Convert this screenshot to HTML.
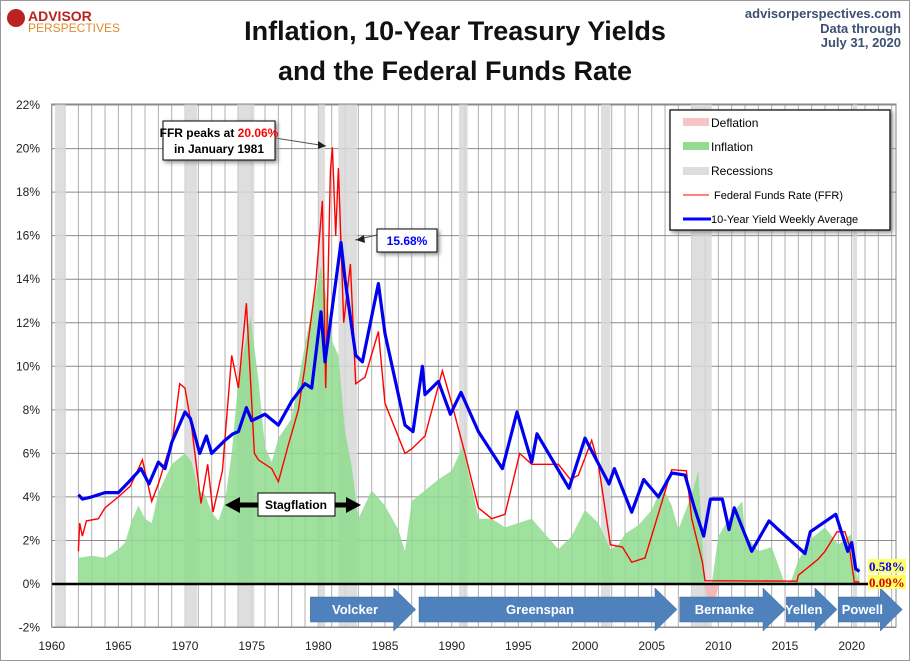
<!DOCTYPE html>
<html><head><meta charset="utf-8"><style>
body{margin:0;background:#fff;}
#wrap{position:relative;width:910px;height:661px;overflow:hidden;background:#fff;font-family:"Liberation Sans",sans-serif;}
svg text{font-family:"Liberation Sans",sans-serif;}
</style></head><body>
<div id="wrap">
<svg id="chart" width="910" height="661" viewBox="0 0 910 661"></svg>
</div>
<script>
const recessions=[[1960.25,1961.05],[1969.95,1970.9],[1973.9,1975.2],[1980.0,1980.5],[1981.5,1982.9],[1990.55,1991.2],[2001.2,2001.9],[2007.95,2009.5],[2020.1,2020.4]];
const inflYears=[1962,1963,1964,1965,1965.5,1966,1966.5,1967,1967.5,1968,1969,1970,1970.5,1971,1971.5,1972,1972.5,1973,1973.5,1974,1974.9,1975.5,1976,1976.5,1977,1978,1979,1979.5,1980.2,1980.7,1981,1981.5,1982,1982.5,1983,1984,1985,1986,1986.5,1987,1988,1989,1990,1990.8,1991.5,1992,1993,1994,1995,1996,1997,1998,1999,2000,2001,2001.9,2002.5,2003,2004,2005,2005.8,2006.5,2007,2008,2008.5,2009,2009.5,2010,2011,2011.8,2012,2013,2014,2015,2015.5,2016,2017,2018,2019,2020,2020.4,2020.58];
const inflValues=[1.2,1.3,1.2,1.6,1.9,2.9,3.6,3.0,2.8,4.2,5.5,6.0,5.6,4.3,4.1,3.3,2.9,3.8,6.0,9.4,12.3,9.4,6.3,5.6,6.7,7.6,11.0,12.5,14.6,12.8,11.2,10.5,7.0,5.4,3.0,4.3,3.6,2.5,1.5,3.8,4.3,4.8,5.2,6.3,4.5,3.0,3.0,2.6,2.8,3.0,2.3,1.6,2.2,3.4,2.8,1.6,1.8,2.3,2.7,3.4,4.5,3.6,2.5,4.1,5.2,-0.1,-1.8,2.2,3.2,3.8,2.3,1.5,1.7,0.0,0.2,1.1,2.1,2.6,1.8,2.3,0.2,1.0];
const ffrYears=[1962,1962.1,1962.3,1962.6,1963.5,1964,1965,1965.9,1966.8,1967.5,1968,1968.7,1969,1969.6,1970,1970.5,1971.2,1971.7,1972.1,1972.8,1973.5,1974,1974.6,1975.2,1975.5,1976.5,1977,1977.8,1978.5,1979,1979.8,1980.3,1980.55,1980.9,1981.05,1981.3,1981.5,1981.9,1982.4,1982.8,1983.5,1984.5,1985,1986.5,1987,1988,1989.3,1990,1991,1992,1993,1994,1995.1,1996,1998,1998.9,1999.5,2000.5,2001,2001.9,2002.8,2003.5,2004.5,2006.5,2007.6,2008,2008.8,2009,2015.9,2016,2017,2017.5,2018,2018.9,2019.5,2019.8,2020.2,2020.58];
const ffrValues=[1.5,2.8,2.2,2.9,3.0,3.5,4.0,4.5,5.7,3.8,4.6,6.0,6.3,9.2,9.0,7.2,3.7,5.5,3.3,5.2,10.5,9.0,12.9,6.0,5.7,5.3,4.7,6.5,8.0,10.0,13.8,17.6,9.0,19.0,20.06,16.0,19.1,12.0,14.7,9.2,9.5,11.6,8.3,6.0,6.2,6.8,9.8,8.3,6.0,3.5,3.0,3.2,6.0,5.5,5.5,4.8,5.0,6.6,5.5,1.8,1.7,1.0,1.2,5.25,5.2,3.0,1.0,0.15,0.13,0.4,0.9,1.15,1.5,2.4,2.4,1.8,0.1,0.09];
const tenYears=[1962,1962.3,1963,1964,1965,1965.8,1966.7,1967.3,1968,1968.5,1969,1970,1970.4,1971.1,1971.6,1972,1973,1973.6,1974,1974.6,1975,1976,1977,1978,1979,1979.5,1980.2,1980.5,1981,1981.7,1982,1982.8,1983.3,1984.5,1985,1986.5,1987.1,1987.8,1988,1989,1989.9,1990.7,1992,1993.8,1994.9,1996,1996.4,1998.8,2000,2001.8,2002.2,2003.5,2004.4,2005.5,2006.5,2007.5,2008.2,2008.9,2009.4,2010.3,2010.8,2011.2,2012.5,2013.8,2014.5,2016.5,2016.9,2018.8,2019.7,2020.0,2020.3,2020.58];
const tenValues=[4.1,3.9,4.0,4.2,4.2,4.7,5.3,4.6,5.6,5.3,6.5,7.9,7.6,6.0,6.8,6.0,6.6,6.9,7.0,8.1,7.5,7.8,7.3,8.4,9.2,9.0,12.5,10.2,12.5,15.68,14.0,10.5,10.2,13.8,11.5,7.3,7.0,10.0,8.7,9.3,7.8,8.8,7.0,5.3,7.9,5.6,6.9,4.4,6.7,4.6,5.3,3.3,4.8,4.0,5.1,5.0,3.5,2.2,3.9,3.9,2.5,3.5,1.5,2.9,2.5,1.4,2.4,3.2,1.5,1.9,0.7,0.58];
const yTicks=[22,20,18,16,14,12,10,8,6,4,2,0,-2];
const xTicks=[1960,1965,1970,1975,1980,1985,1990,1995,2000,2005,2010,2015,2020];
const chairs=["Volcker","Greenspan","Bernanke","Yellen","Powell"];
const chairStart=[1979.4,1987.55,2007.1,2015.1,2019.0];
const chairEnd=[1987.3,2006.9,2015.0,2018.9,2023.8];

const L=51.7,T=104,R=896,B=627;
const X=y=>L+(y-1960)*13.333;
const Y=v=>584-v*21.77;
const svg=document.getElementById('chart');
const NS='http://www.w3.org/2000/svg';
function mk(tag,attrs,parent){const e=document.createElementNS(NS,tag);for(const k in attrs)e.setAttribute(k,attrs[k]);(parent||svg).appendChild(e);return e;}

const grid=mk('g',{});


for(let yr=1960;yr<=2023;yr++){mk('line',{x1:X(yr),x2:X(yr),y1:T,y2:B,stroke:'#b0b0b0','stroke-width':1},grid);}
yTicks.forEach(v=>{mk('line',{x1:L,x2:R,y1:Y(v),y2:Y(v),stroke:'#8c8c8c','stroke-width':1},grid);});
recessions.forEach(r=>{const e=mk('rect',{x:X(r[0]),y:T,width:X(r[1])-X(r[0]),height:B-T,fill:'#d8d8d8','fill-opacity':0.85});

});
let d='M'+X(inflYears[0])+','+Y(0);
inflYears.forEach((yr,i)=>{d+=' L'+X(yr).toFixed(1)+','+Y(Math.max(0,inflValues[i])).toFixed(1);});
d+=' L'+X(inflYears[inflYears.length-1])+','+Y(0)+'Z';
const infl=mk('path',{d:d,fill:'#8fdc8f','fill-opacity':0.85});


let dd='M'+X(inflYears[0])+','+Y(0);
inflYears.forEach((yr,i)=>{dd+=' L'+X(yr).toFixed(1)+','+Y(Math.min(0,inflValues[i])).toFixed(1);});
dd+=' L'+X(inflYears[inflYears.length-1])+','+Y(0)+'Z';
const defl=mk('path',{d:dd,fill:'#f7b8b8'});


const z=mk('line',{x1:L,x2:R,y1:Y(0),y2:Y(0),stroke:'#000','stroke-width':2.5});


mk('rect',{x:L,y:T,width:R-L,height:B-T,fill:'none',stroke:'#888','stroke-width':1});
function line(xs,vs){return xs.map((yr,i)=>(i?'L':'M')+X(yr).toFixed(1)+','+Y(vs[i]).toFixed(1)).join(' ');}
const ffr=mk('path',{d:line(ffrYears,ffrValues),fill:'none',stroke:'#ff0000','stroke-width':1.4});


const ten=mk('path',{d:line(tenYears,tenValues),fill:'none',stroke:'#0000ee','stroke-width':3.2,'stroke-linejoin':'round'});


yTicks.forEach(v=>{const t=mk('text',{x:40,y:Y(v)+4,'text-anchor':'end','font-size':12,fill:'#222'});t.textContent=v+'%';

});
xTicks.forEach(v=>{const t=mk('text',{x:X(v),y:650,'text-anchor':'middle','font-size':12,fill:'#222'});t.textContent=v;

});
chairs.forEach((c,i)=>{const x0=X(chairStart[i]),x1=X(chairEnd[i]);const hw=22;
const g=mk('g',{});


mk('path',{d:`M${x0},597 L${x1-hw},597 L${x1-hw},588 L${x1},609.5 L${x1-hw},631 L${x1-hw},622 L${x0},622 Z`,fill:'#4f81bd',stroke:'#3a6a9e','stroke-width':0.5},g);
const t=mk('text',{x:(x0+x1-hw)/2+3,y:614,'text-anchor':'middle','font-size':13,'font-weight':'bold',fill:'#fff'},g);t.textContent=c;});
</script>
<svg width="910" height="661" style="position:absolute;left:0;top:0;pointer-events:none">
<rect x="0.5" y="0.5" width="909" height="660" fill="none" stroke="#999"/>
<g>
<circle cx="16" cy="18" r="9" fill="#b22" />
<text x="28" y="21" font-size="14" font-weight="bold" fill="#b22">ADVISOR</text>
<text x="28" y="32" font-size="12" fill="#e08a30">PERSPECTIVES</text>
</g>
<text x="455" y="40" text-anchor="middle" font-size="27" font-weight="bold" fill="#111">Inflation, 10-Year Treasury Yields</text>
<text x="455" y="80" text-anchor="middle" font-size="27" font-weight="bold" fill="#111">and the Federal Funds Rate</text>
<g font-size="13" font-weight="bold" fill="#3d4f72" text-anchor="end">
<text x="901" y="18">advisorperspectives.com</text><text x="901" y="33">Data through</text><text x="901" y="47">July 31, 2020</text></g>
<g>
<rect x="670" y="110" width="220" height="120" fill="#fff" stroke="#000" stroke-width="1.2" style="filter:drop-shadow(2px 2px 2px #888)"/>
<rect x="683" y="118" width="26" height="8" fill="#f7c4c4"/><text x="711" y="127" font-size="12">Deflation</text>
<rect x="683" y="142" width="26" height="8" fill="#90dc90"/><text x="711" y="151" font-size="12">Inflation</text>
<rect x="683" y="167" width="26" height="8" fill="#ddd"/><text x="711" y="175" font-size="12">Recessions</text>
<line x1="683" x2="709" y1="195" y2="195" stroke="red" stroke-width="1"/><text x="714" y="199" font-size="11">Federal Funds Rate (FFR)</text>
<line x1="683" x2="711" y1="219" y2="219" stroke="blue" stroke-width="3"/><text x="711" y="223" font-size="11">10-Year Yield Weekly Average</text>
</g>
<g>
<line x1="275" y1="138" x2="326" y2="146" stroke="#555" stroke-width="1"/><polygon points="326,146 318,141 318,149" fill="#222"/>
<rect x="163" y="121" width="112" height="39" fill="#fff" stroke="#000" style="filter:drop-shadow(2px 2px 2px #888)"/>
<text x="219" y="137" text-anchor="middle" font-size="12" font-weight="bold">FFR peaks at <tspan fill="#f00">20.06%</tspan></text>
<text x="219" y="153" text-anchor="middle" font-size="12" font-weight="bold">in January 1981</text></g>
<g>
<line x1="377" y1="235" x2="355" y2="240" stroke="#555"/><polygon points="356,240 364,235 365,243" fill="#222"/>
<rect x="377" y="229" width="60" height="23" fill="#fff" stroke="#000" style="filter:drop-shadow(2px 2px 2px #888)"/>
<text x="407" y="245" text-anchor="middle" font-size="12" font-weight="bold" fill="#00f">15.68%</text></g>
<g>
<line x1="235" x2="258" y1="505" y2="505" stroke="#000" stroke-width="5"/><polygon points="225,505 240,497 240,513" fill="#000"/>
<line x1="335" x2="350" y1="505" y2="505" stroke="#000" stroke-width="5"/><polygon points="361,505 346,497 346,513" fill="#000"/>
<rect x="258" y="493" width="77" height="23" fill="#fff" stroke="#000"/>
<text x="296" y="509" text-anchor="middle" font-size="12" font-weight="bold">Stagflation</text></g>
<g>
<rect x="868" y="559" width="38" height="14" fill="#ffff66"/><text x="869" y="571" font-size="13" font-weight="bold" fill="#00f" style="font-family:'Liberation Serif',serif">0.58%</text>
<rect x="868" y="575" width="38" height="14" fill="#ffff66"/><text x="869" y="587" font-size="13" font-weight="bold" fill="#d00" style="font-family:'Liberation Serif',serif">0.09%</text></g>
</svg>
</body></html>
